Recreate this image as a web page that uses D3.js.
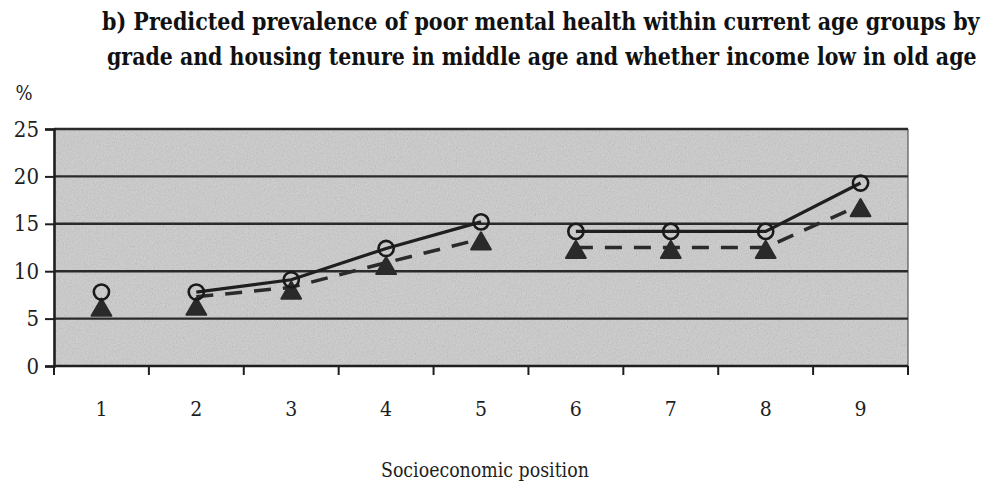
<!DOCTYPE html>
<html>
<head>
<meta charset="utf-8">
<script src="https://cdn.jsdelivr.net/npm/d3@7"></script>
<style>
  html, body { margin: 0; padding: 0; background: #ffffff; }
  svg { display: block; }
  svg text { font-family: "DejaVu Serif Condensed", "DejaVu Serif", serif; }
</style>
</head>
<body>
<svg id="chart" width="990" height="489"></svg>
<script>
// ---- data ----
const categories = ["1", "2", "3", "4", "5", "6", "7", "8", "9"];
const groups = [0, 1, 1, 1, 1, 2, 2, 2, 2];          // connected segment of each category
const circleSeries = [7.8, 7.8, 9.1, 12.4, 15.2, 14.2, 14.2, 14.2, 19.3];
const dashedSeries = [6.6, 7.3, 8.3, 10.9, 13.4, 12.5, 12.5, 12.5, 17.0];
const triangleSeries = [5.9, 6.0, 7.7, 10.3, 12.9, 12.0, 12.0, 12.0, 16.4];
const yTicks = [0, 5, 10, 15, 20, 25];
const titleLines = [
  "b) Predicted prevalence of poor mental health within current age groups by",
  "grade and housing tenure in middle age and whether income low in old age"
];
const xTitle = "Socioeconomic position";
const yUnit = "%";

// ---- layout ----
const svg = d3.select("#chart");
const L = 54, R = 908, T = 129, B = 366;
const x = d3.scaleBand().domain(categories).range([L, R]);
const y = d3.scaleLinear().domain([0, 25]).range([B, T]);
const cx = c => x(c) + x.bandwidth() / 2;
const ink = "#1e1e1e";

// noise texture (filter region limited to the plot rectangle)
const defs = svg.append("defs");
const f = defs.append("filter").attr("id", "noise")
  .attr("x", 0).attr("y", 0).attr("width", 1).attr("height", 1);
f.append("feTurbulence").attr("type", "fractalNoise").attr("baseFrequency", "0.9 0.55")
  .attr("numOctaves", 3).attr("stitchTiles", "stitch");
f.append("feColorMatrix").attr("type", "saturate").attr("values", 0);

svg.append("rect").attr("x", L).attr("y", T).attr("width", R - L).attr("height", B - T).attr("fill", "#cccccc");
svg.append("rect").attr("x", L).attr("y", T).attr("width", R - L).attr("height", B - T)
  .attr("filter", "url(#noise)").attr("opacity", 0.4);
svg.append("line").attr("x1", R).attr("x2", R).attr("y1", T).attr("y2", B).attr("stroke", "#555").attr("stroke-width", 1.2);

// gridlines
svg.append("g").selectAll("line").data(yTicks.filter(d => d > 0)).join("line")
  .attr("x1", L).attr("x2", R).attr("y1", d => y(d)).attr("y2", d => y(d))
  .attr("stroke", "#2a2a2a").attr("stroke-width", 2.4);

// y axis
const yAxis = svg.append("g").attr("transform", `translate(${L},0)`)
  .call(d3.axisLeft(y).tickValues(yTicks).tickSize(9).tickPadding(6));
yAxis.attr("font-family", null);
yAxis.select(".domain").attr("stroke", ink).attr("stroke-width", 2.6);
yAxis.selectAll(".tick line").attr("stroke", ink).attr("stroke-width", 2);
yAxis.selectAll(".tick text").attr("font-size", 22).attr("fill", ink);

// x axis, ticks at band edges
const edges = categories.map(c => x(c)).concat([R]);
const xg = svg.append("g");
xg.append("line").attr("x1", L).attr("x2", R).attr("y1", B).attr("y2", B).attr("stroke", ink).attr("stroke-width", 2.6);
xg.selectAll("line.tk").data(edges).join("line").attr("class", "tk")
  .attr("x1", d => d).attr("x2", d => d).attr("y1", B).attr("y2", B + 9)
  .attr("stroke", ink).attr("stroke-width", 2);
xg.selectAll("text").data(categories).join("text")
  .attr("x", d => cx(d)).attr("y", 416).attr("text-anchor", "middle")
  .attr("font-size", 21).attr("fill", ink).text(d => d);

// lines
const idx = d3.range(categories.length);
const segs = d3.groups(idx, i => groups[i]).map(d => d[1]).filter(s => s.length > 1);
const solid = d3.line().x(i => cx(categories[i])).y(i => y(circleSeries[i]));
const dashed = d3.line().x(i => cx(categories[i])).y(i => y(dashedSeries[i]));
svg.append("g").selectAll("path").data(segs).join("path")
  .attr("d", dashed).attr("fill", "none").attr("stroke", "#2b2b2b").attr("stroke-width", 3.5)
  .attr("stroke-dasharray", "17 12");
svg.append("g").selectAll("path").data(segs).join("path")
  .attr("d", solid).attr("fill", "none").attr("stroke", "#1f1f1f").attr("stroke-width", 3.2);

// triangle markers
svg.append("g").selectAll("path").data(idx).join("path")
  .attr("transform", i => `translate(${cx(categories[i])},${y(triangleSeries[i])})`)
  .attr("d", d3.symbol().type(d3.symbolTriangle).size(170))
  .attr("fill", "#2a2a2a").attr("stroke", "#2a2a2a").attr("stroke-width", 2).attr("stroke-linejoin", "round");

// circle markers
svg.append("g").selectAll("circle").data(idx).join("circle")
  .attr("cx", i => cx(categories[i])).attr("cy", i => y(circleSeries[i])).attr("r", 7.6)
  .attr("fill", "none").attr("stroke", "#1a1a1a").attr("stroke-width", 2.6);

// texts
svg.append("text").attr("x", 24).attr("y", 100).attr("text-anchor", "middle")
  .attr("font-size", 20).attr("fill", ink).text(yUnit);

// condensed text helper: scale horizontally to a target width
function fitText(sel, targetW) {
  sel.each(function () {
    const w = this.getComputedTextLength();
    const t = d3.select(this);
    const tx = +t.attr("data-x"), ty = +t.attr("data-y");
    const sx = Math.min(1, targetW / w);
    t.attr("x", 0).attr("y", 0).attr("transform", `translate(${tx},${ty}) scale(${sx},1)`);
  });
}
svg.append("text").attr("data-x", 485 - 104).attr("data-y", 477)
  .attr("font-size", 20).attr("fill", ink).text(xTitle).call(fitText, 208);

const tl = [[102, 30, 878], [107, 65, 870]];
svg.append("g").selectAll("text").data(titleLines).join("text")
  .attr("data-x", (d, i) => tl[i][0]).attr("data-y", (d, i) => tl[i][1])
  .attr("font-weight", "bold").attr("font-size", 24).attr("fill", "#111")
  .text(d => d)
  .each(function (d, i) { d3.select(this).call(fitText, tl[i][2]); });
</script>
</body>
</html>
